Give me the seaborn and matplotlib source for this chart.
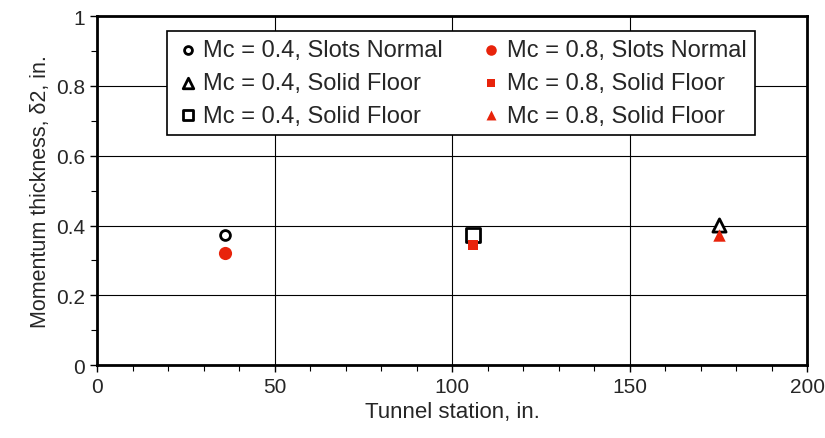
import matplotlib
matplotlib.use("Agg")
import matplotlib.pyplot as plt
import seaborn as sns
import pandas as pd
from matplotlib.ticker import MultipleLocator, FuncFormatter

sns.set_style("white")
plt.rcParams['font.family'] = ['Liberation Sans', 'DejaVu Sans']

labels = ["Mc = 0.4, Slots Normal", "Mc = 0.4, Solid Floor", "Mc = 0.4, Solid Floor",
          "Mc = 0.8, Slots Normal", "Mc = 0.8, Solid Floor", "Mc = 0.8, Solid Floor"]
stations = [36, 175, 106, 36, 106, 175]
thickness = [0.372, 0.401, 0.372, 0.321, 0.344, 0.372]

markers = ["o", "^", "s", "o", "s", "^"]
filled = [False, False, False, True, True, True]
sizes = [50, 90, 95, 90, 45, 80]
red = "#e8230b"

df = pd.DataFrame({"station": stations, "theta": thickness, "label": labels})

fig = plt.figure(figsize=(8.25, 4.39), dpi=100)
ax = fig.add_axes([0.1176, 0.166, 0.861, 0.795])

handles = []
for i in range(len(labels)):
    sub = df.iloc[[i]]
    if filled[i]:
        kw = dict(color=red, edgecolor=red, linewidth=0)
    else:
        kw = dict(facecolor="white", edgecolor="black", linewidth=2)
    sns.scatterplot(data=sub, x="station", y="theta", marker=markers[i], s=sizes[i],
                    ax=ax, legend=False, zorder=3, **kw)
    handles.append(ax.collections[-1])

ax.set_xlim(0, 200)
ax.set_ylim(0, 1)
ax.xaxis.set_major_locator(MultipleLocator(50))
ax.xaxis.set_minor_locator(MultipleLocator(10))
ax.yaxis.set_major_locator(MultipleLocator(0.2))
ax.yaxis.set_minor_locator(MultipleLocator(0.1))
ax.yaxis.set_major_formatter(FuncFormatter(lambda v, p: f"{v:g}"))
ax.grid(True, which="major", color="black", linewidth=0.8)
ax.tick_params(which="major", direction="out", length=5, width=1, labelsize=15, color="black", bottom=True, left=True)
ax.tick_params(which="minor", direction="out", length=4, width=0.8, color="black", bottom=True, left=True)
for sp in ax.spines.values():
    sp.set_color("black")
    sp.set_linewidth(2)

ax.set_xlabel("Tunnel station, in.", fontsize=16)
ax.set_ylabel("Momentum thickness, δ2, in.", fontsize=15.5)

leg = ax.legend(handles, labels, ncol=2, loc="upper left", bbox_to_anchor=(0.098, 0.957),
                borderaxespad=0, framealpha=1,
                fontsize=17, frameon=True, fancybox=False, edgecolor="black",
                handletextpad=0.1, columnspacing=1.5, labelspacing=0.45, borderpad=0.35,
                handlelength=1.1, markerscale=0.8)
leg.get_frame().set_linewidth(1.2)
leg.set_zorder(5)

fig.savefig("out.png", dpi=100, facecolor="white")
